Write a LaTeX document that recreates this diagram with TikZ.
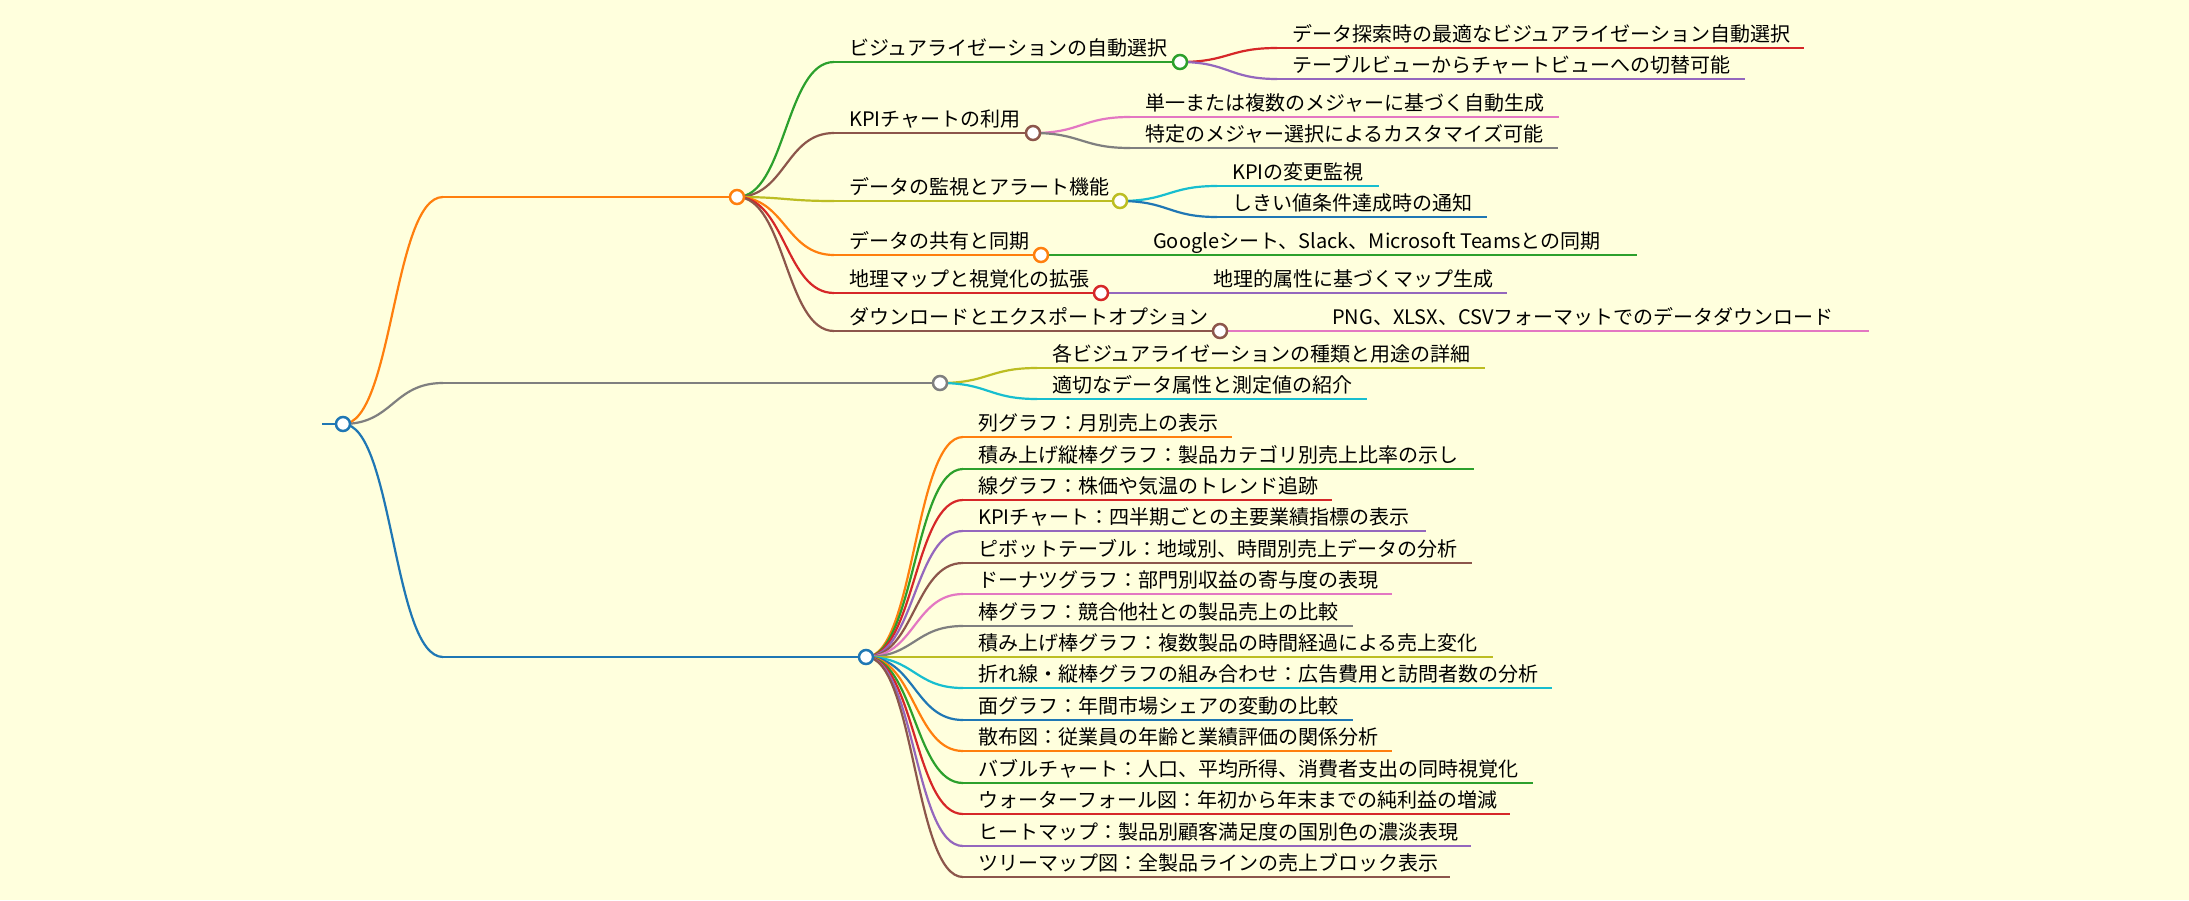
\documentclass[tikz,border=0pt]{standalone}
\usepackage{fontspec}
\setmainfont{Noto Sans CJK JP}
\usetikzlibrary{calc}
\pgfdeclarelayer{bg}
\pgfsetlayers{bg,main}
\definecolor{bgcol}{HTML}{FFFFDD}
\definecolor{mmblue}{HTML}{1F77B4}
\definecolor{mmorange}{HTML}{FF7F0E}
\definecolor{mmgreen}{HTML}{2CA02C}
\definecolor{mmred}{HTML}{D62728}
\definecolor{mmpurple}{HTML}{9467BD}
\definecolor{mmbrown}{HTML}{8C564B}
\definecolor{mmpink}{HTML}{E377C2}
\definecolor{mmgray}{HTML}{7F7F7F}
\definecolor{mmolive}{HTML}{BCBD22}
\definecolor{mmcyan}{HTML}{17BECF}
\tikzset{
  lk/.style={line width=2.2pt, to path={let \p1=(\tikztostart), \p2=(\tikztotarget) in
      .. controls ({0.5*(\x1+\x2)},\y1) and ({0.5*(\x1+\x2)},\y2) .. (\tikztotarget)}},
  ul/.style={line width=2.2pt},
  dot/.style={circle, minimum size=14pt, inner sep=0pt, fill=white, line width=2.5pt},
  lbl/.style={anchor=base west, inner sep=0pt, font=\fontsize{20}{24}\selectfont, text=black},
}
% #1 name, #2 parent, #3 colour, #4 start x, #5 y, #6 circle x, #7 text
\newcommand{\mmnode}[7]{%
  \coordinate (#1s) at (#4,#5);
  \node[dot,draw=#3] (#1) at (#6,#5) {};
  \node[lbl] (#1t) at (#4+15,#5-7) {#7};
  \begin{pgfonlayer}{bg}
    \draw[lk,#3] (#2.center) to (#1s);
    \draw[ul,#3] (#1s) -- (#1.center);
  \end{pgfonlayer}}
% #1 name, #2 parent, #3 colour, #4 start x, #5 y, #6 end x, #7 text
\newcommand{\mmleaf}[7]{%
  \coordinate (#1s) at (#4,#5);
  \coordinate (#1e) at (#6,#5);
  \node[lbl] (#1t) at (#4+15,#5-7) {#7};
  \begin{pgfonlayer}{bg}
    \draw[lk,#3] (#2.center) to (#1s);
    \draw[ul,#3] (#1s) -- (#1e);
  \end{pgfonlayer}}
\begin{document}
\begin{tikzpicture}[x=1pt,y=-1pt]
\useasboundingbox (0,0) rectangle (2189,900);
\begin{pgfonlayer}{bg}
  \fill[bgcol] (0,0) rectangle (2189,900);
\end{pgfonlayer}
% root
\coordinate (R0) at (322,424);
\node[dot,draw=mmblue] (R) at (343,424) {};
\begin{pgfonlayer}{bg}
  \draw[ul,mmblue] (R0) -- (R.center);
\end{pgfonlayer}
% level 1
\coordinate (As) at (443,197);
\node[dot,draw=mmorange] (A) at (737,197) {};
\coordinate (Bs) at (443,383);
\node[dot,draw=mmgray] (B) at (940,383) {};
\coordinate (Cs) at (443,657);
\node[dot,draw=mmblue] (C) at (866,657) {};
\begin{pgfonlayer}{bg}
  \draw[lk,mmorange] (R.center) to (As);
  \draw[ul,mmorange] (As) -- (A.center);
  \draw[lk,mmgray] (R.center) to (Bs);
  \draw[ul,mmgray] (Bs) -- (B.center);
  \draw[lk,mmblue] (R.center) to (Cs);
  \draw[ul,mmblue] (Cs) -- (C.center);
\end{pgfonlayer}
% level 2 under A
\mmnode{A1}{A}{mmgreen}{834}{62}{1180}{ビジュアライゼーションの自動選択}
\mmnode{A2}{A}{mmbrown}{834}{133}{1033}{KPIチャートの利用}
\mmnode{A3}{A}{mmolive}{834}{201}{1120}{データの監視とアラート機能}
\mmnode{A4}{A}{mmorange}{834}{255}{1041}{データの共有と同期}
\mmnode{A5}{A}{mmred}{834}{293}{1101}{地理マップと視覚化の拡張}
\mmnode{A6}{A}{mmbrown}{834}{331}{1220}{ダウンロードとエクスポートオプション}
% level 3
\mmleaf{A1a}{A1}{mmred}{1277}{48}{1804}{データ探索時の最適なビジュアライゼーション自動選択}
\mmleaf{A1b}{A1}{mmpurple}{1277}{79}{1745}{テーブルビューからチャートビューへの切替可能}
\mmleaf{A2a}{A2}{mmpink}{1130}{117}{1559}{単一または複数のメジャーに基づく自動生成}
\mmleaf{A2b}{A2}{mmgray}{1130}{148}{1558}{特定のメジャー選択によるカスタマイズ可能}
\mmleaf{A3a}{A3}{mmcyan}{1217}{186}{1379}{KPIの変更監視}
\mmleaf{A3b}{A3}{mmblue}{1217}{217}{1487}{しきい値条件達成時の通知}
\mmleaf{A4a}{A4}{mmgreen}{1138}{255}{1637}{Googleシート、Slack、Microsoft Teamsとの同期}
\mmleaf{A5a}{A5}{mmpurple}{1198}{293}{1507}{地理的属性に基づくマップ生成}
\mmleaf{A6a}{A6}{mmpink}{1317}{331}{1869}{PNG、XLSX、CSVフォーマットでのデータダウンロード}
% under B
\mmleaf{B1}{B}{mmolive}{1037}{368}{1485}{各ビジュアライゼーションの種類と用途の詳細}
\mmleaf{B2}{B}{mmcyan}{1037}{399}{1367}{適切なデータ属性と測定値の紹介}
% under C
\mmleaf{C1}{C}{mmorange}{963}{437}{1232}{列グラフ：月別売上の表示}
\mmleaf{C2}{C}{mmgreen}{963}{469}{1474}{積み上げ縦棒グラフ：製品カテゴリ別売上比率の示し}
\mmleaf{C3}{C}{mmred}{963}{500}{1332}{線グラフ：株価や気温のトレンド追跡}
\mmleaf{C4}{C}{mmpurple}{963}{531}{1426}{KPIチャート：四半期ごとの主要業績指標の表示}
\mmleaf{C5}{C}{mmbrown}{963}{563}{1472}{ピボットテーブル：地域別、時間別売上データの分析}
\mmleaf{C6}{C}{mmpink}{963}{594}{1392}{ドーナツグラフ：部門別収益の寄与度の表現}
\mmleaf{C7}{C}{mmgray}{963}{626}{1353}{棒グラフ：競合他社との製品売上の比較}
\mmleaf{C8}{C}{mmolive}{963}{657}{1493}{積み上げ棒グラフ：複数製品の時間経過による売上変化}
\mmleaf{C9}{C}{mmcyan}{963}{688}{1552}{折れ線・縦棒グラフの組み合わせ：広告費用と訪問者数の分析}
\mmleaf{C10}{C}{mmblue}{963}{720}{1353}{面グラフ：年間市場シェアの変動の比較}
\mmleaf{C11}{C}{mmorange}{963}{751}{1392}{散布図：従業員の年齢と業績評価の関係分析}
\mmleaf{C12}{C}{mmgreen}{963}{783}{1533}{バブルチャート：人口、平均所得、消費者支出の同時視覚化}
\mmleaf{C13}{C}{mmred}{963}{814}{1510}{ウォーターフォール図：年初から年末までの純利益の増減}
\mmleaf{C14}{C}{mmpurple}{963}{846}{1471}{ヒートマップ：製品別顧客満足度の国別色の濃淡表現}
\mmleaf{C15}{C}{mmbrown}{963}{877}{1450}{ツリーマップ図：全製品ラインの売上ブロック表示}
\end{tikzpicture}
\end{document}
